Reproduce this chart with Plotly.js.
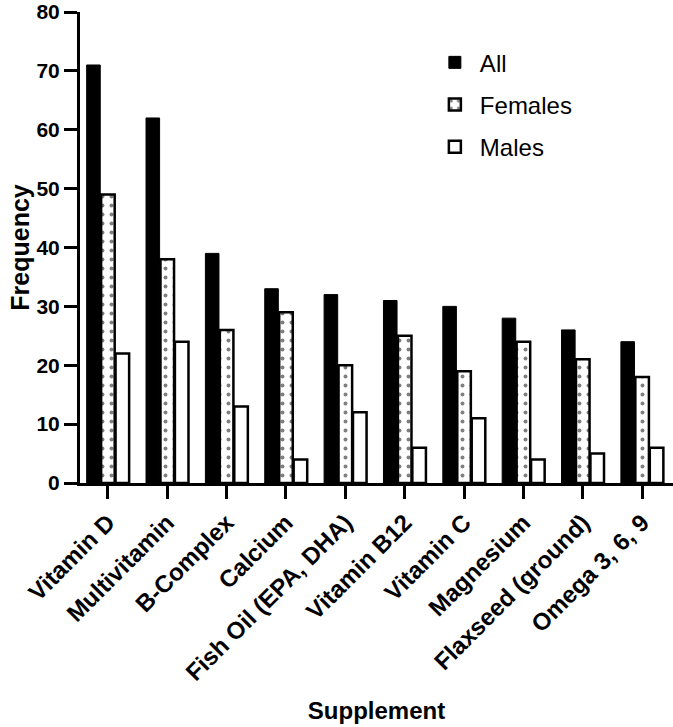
<!DOCTYPE html>
<html>
<head>
<meta charset="utf-8">
<script src="https://cdn.plot.ly/plotly-3.0.1.min.js"></script>
<style>html,body{margin:0;padding:0;background:#fff;}#chart{width:673px;height:727px;}</style>
</head>
<body>
<div id="chart"></div>
<script>
const categories = ["Vitamin D", "Multivitamin", "B-Complex", "Calcium", "Fish Oil (EPA, DHA)", "Vitamin B12", "Vitamin C", "Magnesium", "Flaxseed (ground)", "Omega 3, 6, 9"];
const allValues = [71, 62, 39, 33, 32, 31, 30, 28, 26, 24];
const femaleValues = [49, 38, 26, 29, 20, 25, 19, 24, 21, 18];
const maleValues = [22, 24, 13, 4, 12, 6, 11, 4, 5, 6];
const yTicks = [0, 10, 20, 30, 40, 50, 60, 70, 80];

const FONT = "Liberation Sans, Arial, Helvetica, sans-serif";

const traces = [
  {type: 'bar', name: 'All', legendgroup: 'a', x: categories, y: allValues,
   marker: {color: '#000', line: {color: '#000', width: 1}}},
  {type: 'bar', name: 'Females', legendgroup: 'b', x: categories, y: femaleValues,
   marker: {color: '#fff', line: {color: '#000', width: 2.5},
     pattern: {shape: '.', fgcolor: '#000', bgcolor: '#fff', size: 9, solidity: 0.15, fillmode: 'overlay'}}},
  {type: 'bar', name: 'Males', legendgroup: 'c', x: categories, y: maleValues,
   marker: {color: '#fff', line: {color: '#000', width: 2.5}}}
];

const layout = {
  width: 673, height: 727,
  margin: {l: 80, r: 0, t: 12, b: 244},
  paper_bgcolor: '#fff', plot_bgcolor: '#fff',
  font: {family: FONT, color: '#000'},
  barmode: 'group', bargap: 0.27, bargroupgap: 0.06,
  showlegend: true,
  legend: {x: 0.59, y: 0.94, xanchor: 'left', yanchor: 'top',
    font: {size: 24, family: FONT, color: '#000'}, traceorder: 'grouped', tracegroupgap: 8,
    bgcolor: 'rgba(0,0,0,0)', itemwidth: 40},
  xaxis: {
    type: 'category', range: [-0.47, 9.52],
    showline: true, linecolor: '#000', linewidth: 3,
    ticks: 'outside', ticklen: 13, tickwidth: 3, tickcolor: '#000',
    tickangle: -45, showgrid: false, zeroline: false,
    tickfont: {size: 24, family: FONT, weight: 'bold', color: '#000'},
    title: {text: 'Supplement', font: {size: 24, family: FONT, weight: 'bold', color: '#000'}, standoff: 18}
  },
  yaxis: {
    range: [0, 80], tickvals: yTicks, ticktext: yTicks.map(String),
    showline: true, linecolor: '#000', linewidth: 3,
    ticks: 'outside', ticklen: 13, tickwidth: 3, tickcolor: '#000',
    showgrid: false, zeroline: false,
    tickfont: {size: 21, family: FONT, weight: 'bold', color: '#000'},
    title: {text: 'Frequency', font: {size: 25, family: FONT, weight: 'bold', color: '#000'}, standoff: 0}
  }
};

Plotly.newPlot('chart', traces, layout, {displayModeBar: false, staticPlot: true});
</script>
</body>
</html>
